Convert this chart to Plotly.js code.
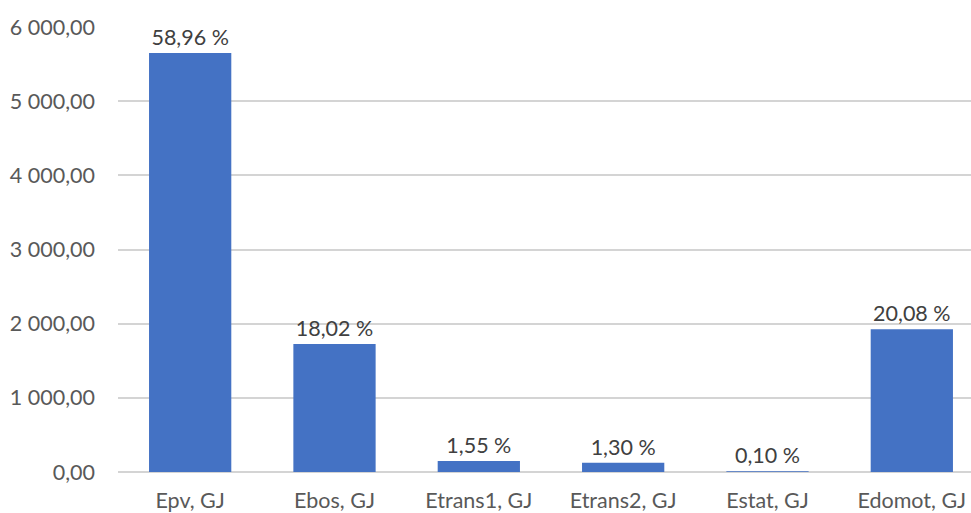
<!DOCTYPE html>
<html>
<head>
<meta charset="utf-8">
<script src="https://cdn.plot.ly/plotly-3.0.1.min.js"></script>
<style>html,body{margin:0;padding:0;background:#fff;}#chart{width:971px;height:513px;}</style>
</head>
<body>
<div id="chart"></div>
<script>
const categories = ["Epv, GJ", "Ebos, GJ", "Etrans1, GJ", "Etrans2, GJ", "Estat, GJ", "Edomot, GJ"];
const values = [5650, 1727, 148.5, 124.6, 9.6, 1924];
const labels = ["58,96 %", "18,02 %", "1,55 %", "1,30 %", "0,10 %", "20,08 %"];
const yTickVals = [0, 1000, 2000, 3000, 4000, 5000, 6000];
const yTickText = ["0,00", "1 000,00", "2 000,00", "3 000,00", "4 000,00", "5 000,00", "6 000,00"];

const FONT = "Lato, 'Open Sans', sans-serif";

Plotly.newPlot("chart", [{
  type: "bar",
  x: categories.map((c, i) => i),
  y: values,
  text: labels,
  textposition: "outside",
  textfont: {family: FONT, size: 21.5, color: "#404040"},
  cliponaxis: false,
  constraintext: "none",
  width: 0.57,
  marker: {color: "#4472c4"},
  hoverinfo: "none"
}], {
  width: 971, height: 513,
  margin: {l: 117.5, r: 0, t: 27, b: 41},
  paper_bgcolor: "#ffffff", plot_bgcolor: "#ffffff",
  showlegend: false,
  font: {family: FONT, size: 21.5, color: "#595959"},
  xaxis: {
    range: [-0.5, 5.41],
    tickvals: [0, 1, 2, 3, 4, 5],
    ticktext: categories,
    showgrid: false, zeroline: false, showline: false,
    ticks: "", ticklabelstandoff: 13,
    tickfont: {family: FONT, size: 21.5, color: "#595959"}
  },
  yaxis: {
    range: [0, 6000],
    tickvals: yTickVals,
    ticktext: yTickText,
    showgrid: true, gridcolor: "#d4d4d4", gridwidth: 2,
    zeroline: true, zerolinecolor: "#d4d4d4", zerolinewidth: 2,
    showline: false, ticks: "", ticklabelstandoff: 22,
    tickfont: {family: FONT, size: 21.5, color: "#595959"}
  }
}, {staticPlot: true});
</script>
</body>
</html>
